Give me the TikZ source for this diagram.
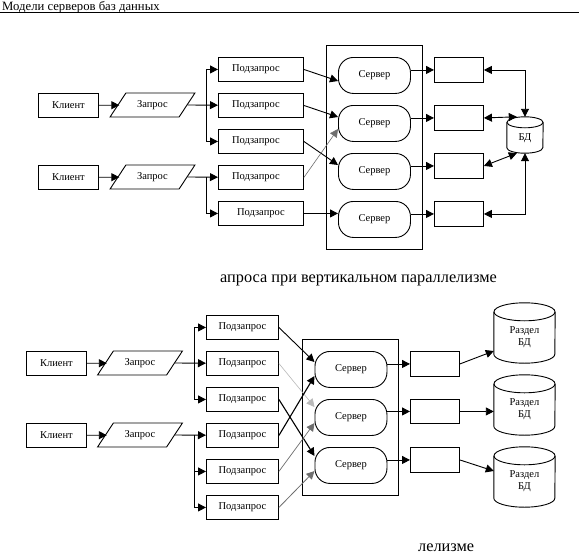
\documentclass[tikz,border=0pt]{standalone}
\usepackage{fontspec}
\setmainfont{Liberation Serif}
\usetikzlibrary{arrows.meta,shapes.geometric}
\definecolor{midgray}{RGB}{110,110,110}
\definecolor{palegray}{RGB}{185,185,185}
\newcommand{\labelfont}{\fontsize{10.5}{12}\selectfont}
% цилиндр БД по размеченному узлу: имя узла, полуоси эллипса
\newcommand{\dbdrum}[3]{
  \draw[line width=0.9pt] ([yshift=-#3]#1.north) circle[x radius=#2,y radius=#3];
  \draw[line width=0.9pt] ([yshift=-#3]#1.north west)--([yshift=#3]#1.south west)
    arc[start angle=180,end angle=360,x radius=#2,y radius=#3]--([yshift=-#3]#1.north east);
}
\tikzset{
  box/.style={draw,line width=0.9pt,rectangle,inner sep=0pt,font=\labelfont,anchor=north west},
  client/.style={box,minimum width=60pt,minimum height=24pt},
  query/.style={draw,line width=0.9pt,trapezium,trapezium left angle=45,trapezium right angle=135,trapezium stretches=true,
    minimum width=85pt,minimum height=24pt,inner sep=0pt,font=\labelfont},
  server/.style={box,rounded corners=15pt,minimum width=72pt,minimum height=36pt},
  result/.style={box,minimum width=49pt,minimum height=25pt},
  dbase/.style={rectangle,inner sep=0pt},
  dbtext/.style={inner sep=0pt,font=\labelfont,align=center},
  arr/.style={->,line width=0.9pt},
  both/.style={<->,line width=0.9pt},
  caption/.style={font=\fontsize{16.3}{18}\selectfont,anchor=base west,inner sep=0pt}
}
\begin{document}
\begin{tikzpicture}[x=1pt,y=-1pt,>={Stealth[length=8pt,width=8pt,inset=0pt]}]
  \useasboundingbox (0,0) rectangle (584,554);
  \fill[white] (0,0) rectangle (584,554);
  % колонтитул
  \node[anchor=base west,inner sep=0pt,font=\fontsize{12.7}{14}\selectfont] (header) at (2,10) {Модели серверов баз данных};
  \draw[line width=0.9pt] (0,12.5)--(579,12.5);
  % верхняя схема: клиенты и запросы
  \node[client] (c1) at (38,93) {Клиент};
  \node[client] (c2) at (38,165) {Клиент};
  \node[query] (q1) at (152.5,105) {Запрос};
  \node[query] (q2) at (152.5,177) {Запрос};
  \coordinate (j1) at (206,105);
  \coordinate (j2) at (206,177);
  % подзапросы
  \node[box,minimum width=85pt,minimum height=24pt] (s1) at (218,57) {Подзапрос\kern10pt};
  \node[box,minimum width=85pt,minimum height=24pt] (s2) at (218,93) {Подзапрос\kern10pt};
  \node[box,minimum width=85pt,minimum height=24pt] (s3) at (218,129) {Подзапрос\kern10pt};
  \node[box,minimum width=85pt,minimum height=24pt] (s4) at (218,165) {Подзапрос\kern10pt};
  \node[box,minimum width=85pt,minimum height=24pt] (s5) at (218,201) {Подзапрос};
  % серверы
  \node[box,minimum width=96pt,minimum height=204pt] (f1) at (326,45) {};
  \node[server] (v1) at (338,57) {Сервер};
  \node[server] (v2) at (338,105) {Сервер};
  \node[server] (v3) at (338,153) {Сервер};
  \node[server] (v4) at (338,201) {Сервер};
  \node[result] (r1) at (434,57) {};
  \node[result] (r2) at (434,105) {};
  \node[result] (r3) at (434,153) {};
  \node[result] (r4) at (434,201) {};
  \node[dbase,minimum width=36pt,minimum height=36pt] (d0) at (525,135) {};
  \dbdrum{d0}{18pt}{5.5pt}
  \node[dbtext] (d0t) at (525,138) {БД};
  % связи
  \draw[arr,shorten >=-2pt] (c1)--(q1);
  \draw[arr,shorten >=-2pt] (c2)--(q2);
  \draw[arr] (q1.east)--(s2);
  \draw[arr] (q2.east)--(s4);
  \draw[arr] (j1)|-(s1);
  \draw[arr] (j1)|-(s3);
  \draw[arr] (j2)|-(s5);
  \draw[arr] (s1.east)--(v1.west|-0,81);
  \draw[arr] (s2.east)--(v2.west|-0,117);
  \draw[arr] (s3.east)--(v3.west|-0,165);
  \draw[->,midgray,line width=0.6pt] (s4.east)--(v2.west|-0,129);
  \draw[arr] (s5)--(v4.west|-s5);
  \draw[arr] (v1.east|-r1)--(r1);
  \draw[arr] (v2.east|-r2)--(r2);
  \draw[arr] (v3.east|-r3)--(r3);
  \draw[arr] (v4.east|-r4)--(r4);
  \draw[both] (r1.east)-|(d0.north);
  \draw[both] (r2.east)--([xshift=10pt]d0.north west);
  \draw[both] (r3.east)--([xshift=10pt]d0.south west);
  \draw[both] (r4.east)-|(d0.south);
  \node[caption] (cap1) at (220,282) {апроса при вертикальном параллелизме};
  % нижняя схема: клиенты и запросы
  \node[client] (c3) at (26,351) {Клиент};
  \node[client] (c4) at (26,423) {Клиент};
  \node[query] (q3) at (140,363) {Запрос};
  \node[query] (q4) at (140,435) {Запрос};
  \coordinate (j3) at (194,363);
  \coordinate (j4) at (194,435);
  % подзапросы
  \node[box,minimum width=72pt,minimum height=24pt] (t1) at (206,315) {Подзапрос};
  \node[box,minimum width=72pt,minimum height=24pt] (t2) at (206,351) {Подзапрос};
  \node[box,minimum width=72pt,minimum height=24pt] (t3) at (206,387) {Подзапрос};
  \node[box,minimum width=72pt,minimum height=24pt] (t4) at (206,423) {Подзапрос};
  \node[box,minimum width=72pt,minimum height=24pt] (t5) at (206,459) {Подзапрос};
  \node[box,minimum width=72pt,minimum height=24pt] (t6) at (206,495) {Подзапрос};
  % серверы
  \node[box,minimum width=96pt,minimum height=156pt] (f2) at (302,339) {};
  \node[server] (w1) at (314.5,351) {Сервер};
  \node[server] (w2) at (314.5,399) {Сервер};
  \node[server] (w3) at (314.5,447) {Сервер};
  \node[result] (u1) at (410,351) {};
  \node[result,minimum height=24pt] (u2) at (410,399) {};
  \node[result] (u3) at (410,447) {};
  % разделы БД
  \node[dbase,minimum width=61pt,minimum height=60pt] (p1) at (524.5,333) {};
  \node[dbase,minimum width=61pt,minimum height=60pt] (p2) at (524.5,405) {};
  \node[dbase,minimum width=61pt,minimum height=60pt] (p3) at (524.5,477) {};
  \dbdrum{p1}{30.5pt}{9pt}
  \dbdrum{p2}{30.5pt}{9pt}
  \dbdrum{p3}{30.5pt}{9pt}
  \node[dbtext] (p1t) at (524.5,337) {Раздел\\БД};
  \node[dbtext] (p2t) at (524.5,409) {Раздел\\БД};
  \node[dbtext] (p3t) at (524.5,481) {Раздел\\БД};
  % связи
  \draw[arr,shorten >=-2pt] (c3)--(q3);
  \draw[arr,shorten >=-2pt] (c4)--(q4);
  \draw[arr] (q3.east)--(t2);
  \draw[arr] (q4.east)--(t4);
  \draw[arr] (j3)|-(t1);
  \draw[arr] (j3)|-(t3);
  \draw[arr] (j4)|-(t5);
  \draw[arr] (j4)|-(t6);
  \draw[arr] (t1.east)--(w1.west|-0,362);
  \draw[->,palegray,line width=0.6pt] (t2.east)--(w2.west|-0,407);
  \draw[arr,line width=1.1pt] (t3.east)--(w3.west|-0,456);
  \draw[arr,line width=1.1pt] (t4.east)--(w1.west|-0,376);
  \draw[->,midgray,line width=0.7pt] (t5.east)--(w2.west|-0,423);
  \draw[->,midgray,line width=0.8pt] (t6.east)--(w3.west|-0,471);
  \draw[arr] (w1.east|-u1)--(u1);
  \draw[arr] (w2.east|-u2)--(u2);
  \draw[arr] (w3.east|-u3)--(u3);
  \draw[arr] (u1.east)--(p1.west|-0,351);
  \draw[arr] (u2)--(p2.west|-u2);
  \draw[arr] (u3.east)--(p3.west|-0,471);
  \node[caption] (cap2) at (418,551) {лелизме};
\end{tikzpicture}
\end{document}
